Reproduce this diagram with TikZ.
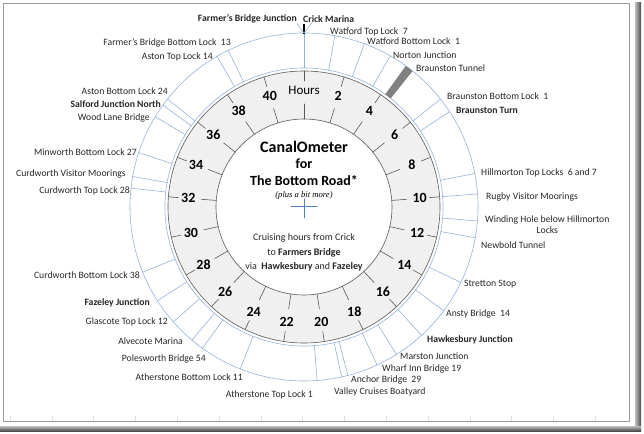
\documentclass[tikz,border=0pt]{standalone}
\usepackage{fontspec}
\setmainfont{Carlito}
\newfontfamily\notefont{Liberation Serif}
\definecolor{dialblue}{RGB}{149,179,215}
\definecolor{crossblue}{RGB}{79,129,189}
\begin{document}
\begin{tikzpicture}[x=1pt,y=1pt,line cap=round,line join=round,
  spoke/.style={draw=dialblue,line width=0.6pt},
  rim/.style={draw=black!65,line width=0.6pt},
  hour/.style={font=\fontsize{14}{14}\selectfont\bfseries,inner sep=0pt},
  place/.style={font=\fontsize{9.7}{11}\selectfont,text=black!85,inner sep=0pt},
  junction/.style={place,font=\fontsize{9.7}{11}\selectfont\bfseries},
  blurb/.style={font=\fontsize{10}{14.5}\selectfont,text=black!85,inner sep=0pt}]
\useasboundingbox (0,0) rectangle (644,433);
\foreach \k in {0,...,14}
{\draw[black!12] (10+\k*41.8,12) -- ++(0,5);}
\draw[black!40,line width=0.7pt] (3,12) rectangle (629,430);
\shade[left color=black!25,right color=black!70] (635,2) rectangle (641,430);
\shade[top color=black!25,bottom color=black!70] (0,2) rectangle (641,7);
\begin{scope}[shift={(304,226)}]
\fill[black!6] (0,0) circle (136);
\fill[white] (0,0) circle (88);
\draw[rim] (0,0) circle (136) (0,0) circle (88);
\draw[spoke] (0,0) circle (139) (0,0) circle (174);
\foreach \a in {0,10.2,20.3,29.7,51.7,56.8,78.9,85.7,94.6,100.2,115.7,126.6,137.5,147.9,155.2,165.4,167.5,175.7,201.5,215.7,220.1,228.7,237.4,248,276.2,280.1,288.2,301.3,305.8,308.3,330,334.2}
{\draw[spoke] (90-\a:139) -- (90-\a:174);}
\fill[black!50] (54.2:139) -- (54.2:174) arc[start angle=54.2,end angle=51.4,radius=174] -- (51.4:139) arc[start angle=51.4,end angle=54.2,radius=139] -- cycle;
\draw[line width=2.6pt,line cap=butt] (90:173) -- (90:183);
\coordinate (apex) at (90:174);
\foreach \h in {0,2,...,40}
{\draw[rim] (90-\h*60/7:136) -- (90-\h*60/7:126);
 \draw[rim] (90-\h*60/7:88) -- (90-\h*60/7:103);}
\foreach \h in {2,4,...,40}
{\node[hour] (h\h) at (90-\h*60/7:116) {\h};}
\node[hour,font=\fontsize{13}{13}\selectfont] (hours) at (90:117) {Hours};
\draw[crossblue,line width=1pt] (-13,0) -- (13,0) (0,8) -- (0,-11);
\end{scope}
\node[font=\fontsize{16}{16}\selectfont\bfseries,inner sep=0pt] (title) at (304,286) {CanalOmeter};
\node[font=\fontsize{14}{14}\selectfont\bfseries,inner sep=0pt] (for) at (304,269) {for};
\node[font=\fontsize{14}{14}\selectfont\bfseries,inner sep=0pt] (road) at (304,252) {The Bottom Road*};
\node[font=\notefont\itshape\fontsize{8.6}{9}\selectfont,inner sep=0pt] (more) at (304,238) {(plus a bit more)};
\node[blurb,align=center] (cruise) at (304,180.5) {Cruising hours from Crick\\to \textbf{Farmers Bridge}\\via~~\textbf{Hawkesbury} and \textbf{Fazeley}};
\node[junction,anchor=west] (crick) at (303,414) {Crick Marina};
\node[junction,anchor=east] (fbj) at (297,414) {Farmer's Bridge Junction};
\draw[spoke] (apex) -- (fbj.south east);
\draw[spoke] (apex) -- ([xshift=9pt]crick.south west);
\node[place,anchor=west] (wtop) at (330,401) {Watford Top Lock~~7};
\node[place,anchor=west] (wbot) at (367,392) {Watford Bottom Lock~~1};
\node[place,anchor=west] (norton) at (393,378) {Norton Junction};
\node[place,anchor=west] (tunnel) at (416,365) {Braunston Tunnel};
\node[place,anchor=west] (bbot) at (447,337) {Braunston Bottom Lock~~1};
\node[junction,anchor=west] (bturn) at (456,323) {Braunston Turn};
\node[place,anchor=west] (hill) at (481,260) {Hillmorton Top Locks~~6 and 7};
\node[place,anchor=west] (rugby) at (486,236) {Rugby Visitor Moorings};
\node[place,anchor=west,align=center] (wind) at (485,208.5) {Winding Hole below Hillmorton\\Locks};
\node[place,anchor=west] (newbold) at (481,188) {Newbold Tunnel};
\node[place,anchor=west] (stretton) at (464,149) {Stretton Stop};
\node[place,anchor=west] (ansty) at (446,119) {Ansty Bridge~~14};
\node[junction,anchor=west] (hawk) at (427,93) {Hawkesbury Junction};
\node[place,anchor=west] (marston) at (400,77) {Marston Junction};
\node[place,anchor=west] (wharf) at (382,64) {Wharf Inn Bridge 19};
\node[place,anchor=west] (anchor) at (351,53) {Anchor Bridge~~29};
\node[place,anchor=west] (valley) at (334,41) {Valley Cruises Boatyard};
\node[place,anchor=east] (athtop) at (313,38) {Atherstone Top Lock 1};
\node[place,anchor=east] (athbot) at (243,56) {Atherstone Bottom Lock 11};
\node[place,anchor=east] (poles) at (206,74) {Polesworth Bridge 54};
\node[place,anchor=east] (alve) at (183,92) {Alvecote Marina};
\node[place,anchor=east] (glas) at (168,111) {Glascote Top Lock 12};
\node[junction,anchor=east] (faz) at (150,130) {Fazeley Junction};
\node[place,anchor=east] (cbot) at (140,158) {Curdworth Bottom Lock 38};
\node[place,anchor=east] (ctop) at (130,242) {Curdworth Top Lock 28};
\node[place,anchor=east] (cvm) at (126,259) {Curdworth Visitor Moorings};
\node[place,anchor=east] (minw) at (137,281) {Minworth Bottom Lock 27};
\node[place,anchor=east] (wood) at (150,315) {Wood Lane Bridge};
\node[junction,anchor=east] (salf) at (161,329) {Salford Junction North};
\node[place,anchor=east] (abot) at (168,342) {Aston Bottom Lock 24};
\node[place,anchor=east] (atop) at (213,376) {Aston Top Lock 14};
\node[place,anchor=east] (fbbot) at (231,390) {Farmer's Bridge Bottom Lock~~13};
\end{tikzpicture}
\end{document}
